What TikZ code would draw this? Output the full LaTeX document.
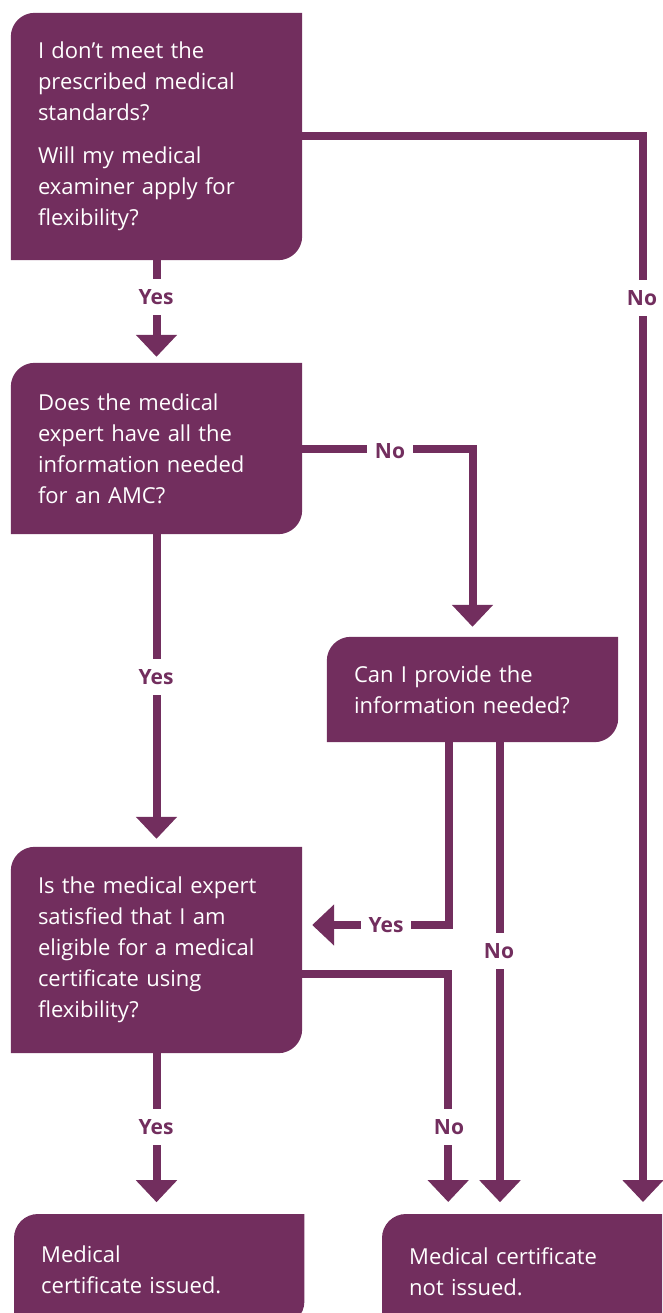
\documentclass[tikz,border=0pt]{standalone}
\usepackage{fontspec}
\setmainfont{Open Sans}
\usetikzlibrary{arrows.meta}
\definecolor{plum}{RGB}{114,46,94}
\pgfdeclarelayer{bg}
\pgfsetlayers{bg,main}
\begin{document}
\begin{tikzpicture}[x=1pt,y=-1pt,
  box/.style={minimum width=291pt, text width=237pt, inner xsep=27pt, inner ysep=0pt,
    align=left, text=white, font=\fontsize{22pt}{31pt}\selectfont},
  endbox/.style={box, anchor=north west, inner ysep=26pt},
  conn/.style={draw=plum, line width=8pt},
  arr/.style={conn, -{Triangle[width=40pt,length=22pt]}},
  lbl/.style={fill=white, text=plum, font=\fontsize{21pt}{25pt}\selectfont\bfseries,
    inner xsep=8pt, inner ysep=10.5pt}]
\useasboundingbox (0,0) rectangle (662,1313);

% boxes
\node[box, minimum height=247pt] (q1) at (156.5,136.5)
  {I don’t meet the\\prescribed medical\\standards?\\[12pt]Will my medical\\examiner apply for\\flexibility?};
\node[box, minimum height=171pt] (q2) at (156.5,448.5)
  {Does the medical\\expert have all the\\information needed\\for an AMC?};
\node[box, minimum height=105pt] (q3) at (472.5,689.5)
  {Can I provide the\\information needed?};
\node[box, minimum height=206pt] (q4) at (156.5,950)
  {Is the medical expert\\satisfied that I am\\eligible for a medical\\certificate using\\flexibility?};
\node[endbox, minimum height=111pt, minimum width=290pt, text width=236pt] (r1) at (14,1214)
  {Medical\\certificate issued.};
\node[endbox, minimum height=116pt, minimum width=298pt, text width=244pt] (r2) at (382,1214)
  {Medical certificate\\not issued.};

\begin{pgfonlayer}{bg}
  \clip (0,0) rectangle (662,1313);
  \foreach \n in {q1,q2,q3,q4,r1,r2}
    \fill[plum] (\n.south west) -- ([yshift=-24pt]\n.north west)
      arc[start angle=180,end angle=90,radius=24pt] -- (\n.north east)
      -- ([yshift=24pt]\n.south east)
      arc[start angle=0,end angle=-90,radius=24pt] -- cycle;
\end{pgfonlayer}

% connectors
\coordinate (c1) at (643,1202);
\draw[arr, shorten >=6pt] (q1) -- (q2);
\draw[arr] (q1.east) -| (c1);
\draw[arr] (q2.east) -| ([yshift=10pt]q3.north);
\draw[arr, shorten >=8pt] (q2) -- (q4);
\draw[arr] ([xshift=-23.5pt]q3.south) |- ([xshift=10pt,yshift=25pt]q4.east);
\draw[arr] ([xshift=27.5pt]q3.south) -- ++(0,460);
\draw[arr] ([yshift=-24pt]q4.east) -| ++(146,228);
\draw[arr] (q4.south) -- ++(0,149);

% labels
\node[lbl] (l1) at (156,297) {Yes};
\node[lbl] (l2) at (642,298) {No};
\node[lbl] (l3) at (390,451) {No};
\node[lbl] (l4) at (156,677) {Yes};
\node[lbl] (l5) at (386,925) {Yes};
\node[lbl] (l6) at (499,951) {No};
\node[lbl] (l7) at (449,1127) {No};
\node[lbl] (l8) at (156,1127) {Yes};
\end{tikzpicture}
\end{document}
